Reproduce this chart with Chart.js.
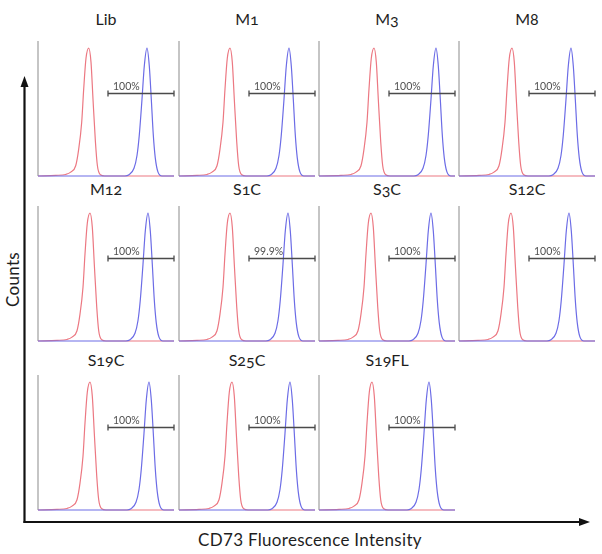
<!DOCTYPE html>
<html lang="en">
<head>
<meta charset="UTF-8">
<title>CD73 Fluorescence Intensity</title>
<script src="https://cdn.jsdelivr.net/npm/chart.js"></script>
<style>
    body {
        margin: 0;
        background: #fff;
        font-family: Lato, "Open Sans", sans-serif;
    }
    #wrap {
        position: relative;
        width: 602px;
        height: 554px;
        overflow: hidden;
    }
    #wrap canvas { position: absolute; }
    .title {
        position: absolute;
        width: 136px;
        height: 20px;
        line-height: 20px;
        text-align: center;
        font-size: 16px;
        color: #1e1e1e;
        font-feature-settings: "onum";
    }
    .axis-label {
        position: absolute;
        font-size: 17px;
        color: #1e1e1e;
        white-space: nowrap;
        letter-spacing: 0.3px;
    }
    #axes { position: absolute; left: 0; top: 0; }
</style>
</head>
<body>
<div id="wrap">
    <svg id="axes" width="602" height="554">
        <line x1="24.5" y1="523" x2="24.5" y2="84" stroke="#111" stroke-width="2.2"/>
        <polygon points="24.5,76 20.5,87 28.5,87" fill="#111"/>
        <line x1="23.5" y1="522" x2="582" y2="522" stroke="#111" stroke-width="2.2"/>
        <polygon points="590,522 579,518 579,526" fill="#111"/>
    </svg>
    <div class="axis-label" style="left:-18px; top:269px; transform:rotate(-90deg); width:60px; text-align:center;">Counts</div>
    <div class="axis-label" style="left:170px; top:529px; width:280px; text-align:center;">CD73 Fluorescence Intensity</div>
</div>

<script>
    // samples and gate values
    const samples = ['Lib', 'M1', 'M3', 'M8', 'M12', 'S1C', 'S3C', 'S12C', 'S19C', 'S25C', 'S19FL'];
    const positivePct = ['100%', '100%', '100%', '100%', '100%', '99.9%', '100%', '100%', '100%', '100%', '100%'];

    // peak positions (intensity units, 0-136)
    const redPeak = [50.7, 51, 55, 53, 52, 51, 52, 52, 52, 53, 53];
    const bluePeak = [109, 110, 117, 112, 110, 109, 112, 110, 111, 111, 110];

    // histogram profile around the peak (offset, normalised count)
    const redOffsets = [-33, -23, -18, -13, -10, -7, -5, -2.7, 0, 2.3, 4.3, 6.7, 8.7, 11.7, 16];
    const redCounts = [0.005, 0.012, 0.03, 0.08, 0.21, 0.42, 0.68, 0.92, 1, 0.89, 0.6, 0.27, 0.08, 0.01, 0];
    const blueOffsets = [-22, -18, -13, -10, -7.7, -5, -2.7, 0, 2.3, 4.3, 6.3, 8.3, 11, 15];
    const blueCounts = [0, 0.01, 0.06, 0.16, 0.32, 0.6, 0.86, 1, 0.86, 0.6, 0.32, 0.14, 0.03, 0];

    const xMax = 136;
    const gateRange = [70, 136];
    const gateLevel = 0.65;

    const colLeft = [38, 179, 319, 459];
    const rowTop = [41, 206, 375];
    const titleY = [9, 179, 350];
    const panelH = 135;

    const wrap = document.getElementById('wrap');

    const panelPlugin = {
        id: 'panelDeco',
        beforeDatasetsDraw(chart) {
            const { ctx, chartArea } = chart;
            ctx.save();
            ctx.strokeStyle = '#b2b2b2';
            ctx.lineWidth = 1.5;
            ctx.beginPath();
            ctx.moveTo(chartArea.left, chartArea.top);
            ctx.lineTo(chartArea.left, chartArea.bottom);
            ctx.stroke();
            ctx.restore();
        },
        afterDatasetsDraw(chart, args, opts) {
            const { ctx, scales: { x, y } } = chart;
            const x0 = x.getPixelForValue(gateRange[0]);
            const x1 = x.getPixelForValue(gateRange[1]);
            const yy = Math.round(y.getPixelForValue(gateLevel)) + 0.5;
            ctx.save();
            ctx.strokeStyle = '#4a4a4a';
            ctx.lineWidth = 1.3;
            ctx.beginPath();
            ctx.moveTo(x0, yy); ctx.lineTo(x1, yy);
            ctx.moveTo(x0, yy - 3); ctx.lineTo(x0, yy + 3);
            ctx.moveTo(x1, yy - 3); ctx.lineTo(x1, yy + 3);
            ctx.stroke();
            ctx.fillStyle = '#505050';
            ctx.font = '10.5px Lato, "Open Sans", sans-serif';
            ctx.textBaseline = 'alphabetic';
            ctx.fillText(opts.label, x0 + 5, yy - 4);
            ctx.restore();
        }
    };

    const buildCurve = (peak, offsets, counts) => {
        const pts = [{ x: 0, y: 0 }];
        offsets.forEach((o, i) => pts.push({ x: peak + o, y: counts[i] }));
        pts.push({ x: xMax, y: 0 });
        return pts;
    };

    samples.forEach((name, i) => {
        const col = i % 4;
        const row = Math.floor(i / 4);
        const left = colLeft[col];
        const top = rowTop[row];

        const title = document.createElement('div');
        title.className = 'title';
        title.style.left = left + 'px';
        title.style.top = titleY[row] + 'px';
        title.textContent = name;
        wrap.appendChild(title);

        const canvas = document.createElement('canvas');
        canvas.width = 140;
        canvas.height = panelH + 5;
        canvas.style.left = (left - 2) + 'px';
        canvas.style.top = (top - 2) + 'px';
        wrap.appendChild(canvas);

        new Chart(canvas.getContext('2d'), {
            type: 'line',
            data: {
                datasets: [{
                    label: 'CD73',
                    data: buildCurve(bluePeak[i], blueOffsets, blueCounts),
                    borderColor: 'rgb(108, 108, 230)',
                    borderWidth: 1.2,
                    pointRadius: 0,
                    cubicInterpolationMode: 'monotone',
                    clip: false,
                    order: 0
                }, {
                    label: 'Isotype',
                    data: buildCurve(redPeak[i], redOffsets, redCounts),
                    borderColor: 'rgb(236, 120, 130)',
                    borderWidth: 1.2,
                    pointRadius: 0,
                    cubicInterpolationMode: 'monotone',
                    clip: false,
                    order: 1
                }]
            },
            options: {
                responsive: false,
                animation: false,
                devicePixelRatio: 1,
                layout: { padding: { left: 2, right: 2, top: 2, bottom: 3 } },
                scales: {
                    x: { type: 'linear', min: 0, max: xMax, display: false },
                    y: { min: 0, max: 1.055, display: false }
                },
                plugins: {
                    legend: { display: false },
                    tooltip: { enabled: false },
                    panelDeco: { label: positivePct[i] }
                }
            },
            plugins: [panelPlugin]
        });
    });
</script>
</body>
</html>
